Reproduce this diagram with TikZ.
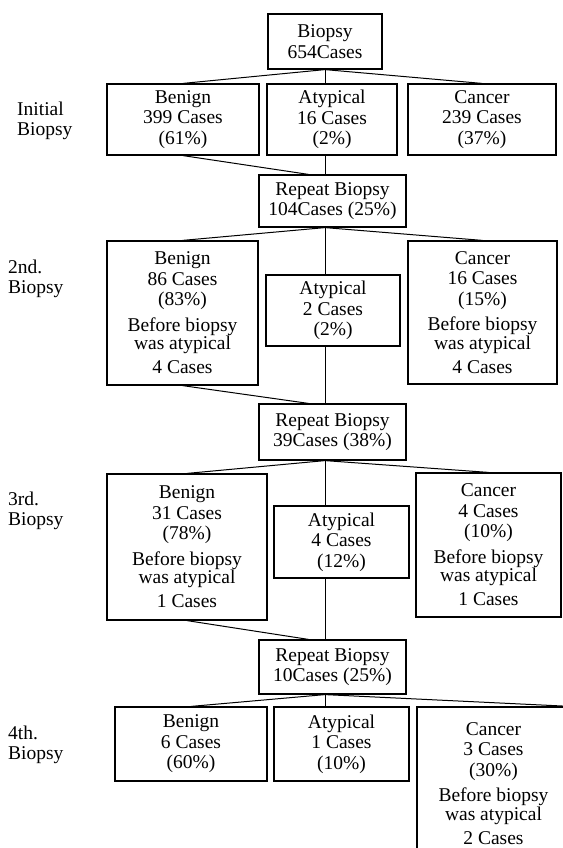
\documentclass[tikz,border=0pt]{standalone}
\usepackage{fontspec}
\setmainfont{Liberation Serif}
\newcommand{\boxfont}{\fontsize{19.5}{20.5}\selectfont}

\begin{document}
\begin{tikzpicture}[x=1pt,y=-1pt,
    box/.style={draw, line width=1.2pt, inner sep=0pt, align=center, font=\boxfont},
    lbl/.style={inner sep=0pt, align=left, anchor=west, font=\boxfont},
    link/.style={line width=1pt}]
\useasboundingbox (0,0) rectangle (562,848);
% start
\node[box, minimum width=114pt, minimum height=55pt] (bio) at (325,41.5) {Biopsy\\654Cases};
% initial biopsy
\node[lbl] (lab1) at (17,121) {Initial\\Biopsy};
\node[box, minimum width=152pt, minimum height=71pt] (ben1) at (183,119.5) {Benign\\399 Cases\\(61\%)};
\node[box, minimum width=130pt, minimum height=71pt] (aty1) at (332,119.5) {Atypical\\16 Cases\\(2\%)};
\node[box, minimum width=148pt, minimum height=71pt] (can1) at (482,119.5) {Cancer\\239 Cases\\(37\%)};
\draw[link] (bio.south) -- (ben1.north);
\draw[link] (bio.south) -- (aty1.north -| bio.south);
\draw[link] (bio.south) -- (can1.north);
\node[box, minimum width=147pt, minimum height=52pt] (rep1) at (332.5,201) {Repeat Biopsy\\104Cases (25\%)};
\draw[link] (ben1.south) -- ([xshift=-24pt]rep1.north);
\draw[link] (aty1.south -| bio.south) -- (rep1.north -| bio.south);
% 2nd biopsy
\node[lbl] (lab2) at (8,279) {2nd.\\Biopsy};
\node[box, minimum width=151pt, minimum height=144pt] (ben2) at (182.5,313) {Benign\\86 Cases\\(83\%)\\[5pt]Before biopsy\\[-2pt]was atypical\\[3.5pt]4 Cases};
\node[box, minimum width=134pt, minimum height=71pt] (aty2) at (333,310.5) {Atypical\\2 Cases\\(2\%)};
\node[box, minimum width=149pt, minimum height=143pt] (can2) at (482.5,312.5) {Cancer\\16 Cases\\(15\%)\\[5pt]Before biopsy\\[-2pt]was atypical\\[3.5pt]4 Cases};
\draw[link] (rep1.south -| bio.south) -- (ben2.north);
\draw[link] (rep1.south -| bio.south) -- (aty2.north -| bio.south);
\draw[link] (rep1.south -| bio.south) -- (can2.north);
\node[box, minimum width=147pt, minimum height=56pt] (rep2) at (332.5,432) {Repeat Biopsy\\39Cases (38\%)};
\draw[link] (ben2.south) -- ([xshift=-24pt]rep2.north);
\draw[link] (aty2.south -| bio.south) -- (rep2.north -| bio.south);
% 3rd biopsy
\node[lbl] (lab3) at (8,511) {3rd.\\Biopsy};
\node[box, minimum width=160pt, minimum height=146pt] (ben3) at (187,547) {Benign\\31 Cases\\(78\%)\\[5pt]Before biopsy\\[-2pt]was atypical\\[3.5pt]1 Cases};
\node[box, minimum width=135pt, minimum height=72pt] (aty3) at (341.5,542) {Atypical\\4 Cases\\(12\%)};
\node[box, minimum width=145pt, minimum height=144pt] (can3) at (488.5,545) {Cancer\\4 Cases\\(10\%)\\[5pt]Before biopsy\\[-2pt]was atypical\\[3.5pt]1 Cases};
\draw[link] (rep2.south -| bio.south) -- (ben3.north);
\draw[link] (rep2.south -| bio.south) -- (aty3.north -| bio.south);
\draw[link] (rep2.south -| bio.south) -- (can3.north);
\node[box, minimum width=147pt, minimum height=54pt] (rep3) at (332.5,667) {Repeat Biopsy\\10Cases (25\%)};
\draw[link] (ben3.south) -- ([xshift=-24pt]rep3.north);
\draw[link] (aty3.south -| bio.south) -- (rep3.north -| bio.south);
% 4th biopsy
\node[lbl] (lab4) at (8,745) {4th.\\Biopsy};
\node[box, minimum width=152pt, minimum height=74pt] (ben4) at (191,744) {Benign\\6 Cases\\(60\%)};
\node[box, minimum width=135pt, minimum height=74pt] (aty4) at (341.5,744) {Atypical\\1 Cases\\(10\%)};
\node[box, minimum width=153pt, minimum height=153pt] (can4) at (493.5,783.5) {Cancer\\3 Cases\\(30\%)\\[5pt]Before biopsy\\[-2pt]was atypical\\[3.5pt]2 Cases};
\draw[link] (rep3.south -| bio.south) -- (ben4.north);
\draw[link] (rep3.south -| bio.south) -- (aty4.north -| bio.south);
\draw[link] (rep3.south -| bio.south) -- (can4.north east);
\end{tikzpicture}
\end{document}
